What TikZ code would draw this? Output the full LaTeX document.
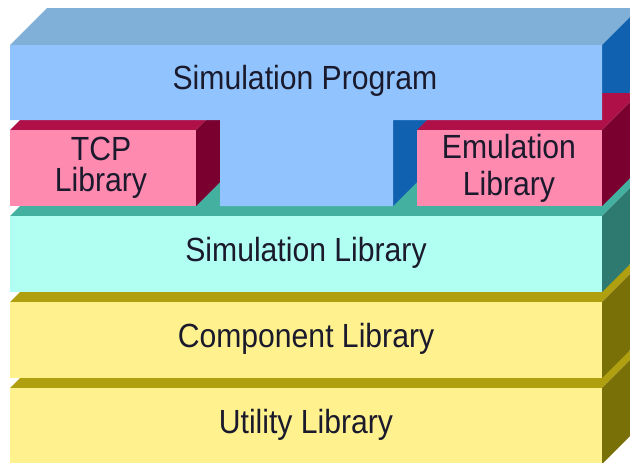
\documentclass[tikz,border=0pt]{standalone}
\usepackage{fontspec}
\setmainfont{Liberation Sans}
\newfontfamily\lblfont[FakeStretch=0.9]{Liberation Sans}

% face colours of the slabs
\definecolor{progFront}{RGB}{145,196,255}
\definecolor{progTop}{RGB}{128,176,216}
\definecolor{progSide}{RGB}{16,98,176}
\definecolor{pinkFront}{RGB}{255,138,176}
\definecolor{pinkTop}{RGB}{176,16,72}
\definecolor{pinkSide}{RGB}{122,0,48}
\definecolor{aquaFront}{RGB}{176,255,242}
\definecolor{aquaTop}{RGB}{68,176,160}
\definecolor{aquaSide}{RGB}{46,122,112}
\definecolor{yelFront}{RGB}{255,242,142}
\definecolor{yelTop}{RGB}{176,160,16}
\definecolor{yelSide}{RGB}{122,112,8}
\definecolor{labelInk}{RGB}{26,26,44}

% one extruded slab: front corners (#1,#2)-(#3,#4), colours front/top/side
\newcommand\slab[7]{%
  \fill[#6] (#1,#2) -- ++(37,-37) -- (#3+37,#2-37) -- (#3,#2) -- cycle;
  \fill[#7] (#3,#2) -- ++(37,-37) -- (#3+37,#4-37) -- (#3,#4) -- cycle;
  \fill[#5] (#1,#2) rectangle (#3,#4);
}

\tikzset{
  layerlabel/.style={text=labelInk, anchor=base, inner sep=0pt,
    font=\lblfont\fontsize{33.5}{36}\selectfont},
  twoline/.style={layerlabel, align=center},
}

\begin{document}
\begin{tikzpicture}[x=1pt, y=-1pt]
\useasboundingbox (0,0) rectangle (630,463);
\clip (0,0) rectangle (630,463);

% lower layers, bottom first
\slab{10}{388}{602}{464}{yelFront}{yelTop}{yelSide}
\slab{10}{302}{602}{378}{yelFront}{yelTop}{yelSide}
\slab{10}{216}{602}{292}{aquaFront}{aquaTop}{aquaSide}

% T-shaped program block: receding faces
\fill[progTop] (10,45) -- (47,8) -- (639,8) -- (602,45) -- cycle;
\fill[progSide] (602,45) -- (639,8) -- (639,83) -- (602,120) -- cycle;
\fill[progSide] (393,120) -- (430,83) -- (430,169) -- (393,206) -- cycle;

% side blocks: top and side faces
\fill[pinkTop] (10,130) -- (47,93) -- (233,93) -- (196,130) -- cycle;
\fill[pinkSide] (196,130) -- (233,93) -- (233,169) -- (196,206) -- cycle;
\fill[pinkTop] (417,130) -- (454,93) -- (639,93) -- (602,130) -- cycle;
\fill[pinkSide] (602,130) -- (639,93) -- (639,169) -- (602,206) -- cycle;

% front faces of the top row
\fill[progFront] (10,45) -- (602,45) -- (602,120) -- (393,120) -- (393,206)
  -- (220,206) -- (220,120) -- (10,120) -- cycle;
\fill[pinkFront] (10,130) rectangle (196,206);
\fill[pinkFront] (417,130) rectangle (602,206);

% labels (anchored at the baseline of their last line)
\node[layerlabel] (prog) at (305,89) {Simulation Program};
\node[twoline, font=\lblfont\fontsize{33.5}{31}\selectfont] (tcp) at (101,191) {TCP\\Library};
\node[twoline, font=\lblfont\fontsize{33.5}{37}\selectfont] (emu) at (509,195) {Emulation\\Library};
\node[layerlabel] (simlib) at (306,261) {Simulation Library};
\node[layerlabel] (comp) at (306,347) {Component Library};
\node[layerlabel] (util) at (306,433) {Utility Library};
\end{tikzpicture}
\end{document}
